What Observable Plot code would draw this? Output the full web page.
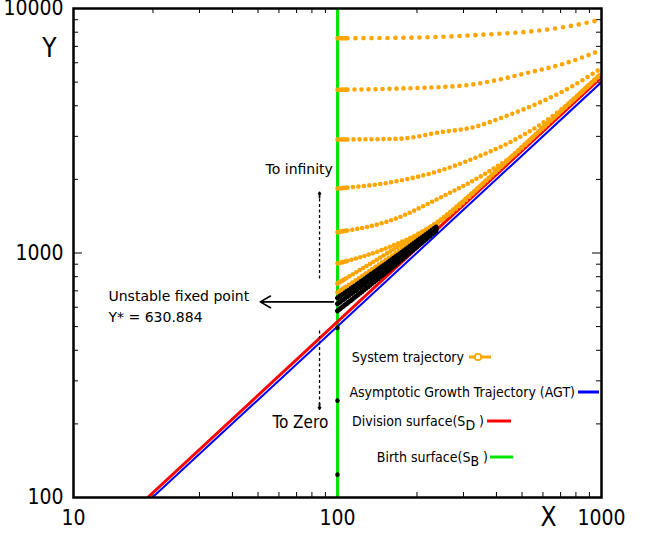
<!DOCTYPE html>
<html>
<head>
<meta charset="utf-8">
<script src="https://cdn.jsdelivr.net/npm/d3@7"></script>
<script src="https://cdn.jsdelivr.net/npm/@observablehq/plot@0.6"></script>
<style>
  html, body { margin: 0; padding: 0; background: #fff; }
  #chart svg { display: block; overflow: visible; }
</style>
</head>
<body>
<div id="chart"></div>
<script>
// ---------- tick values ----------
const xTickLabels = [10, 100, 1000];
const yTickLabels = [100, 1000, 10000];
const xMinorTicks = [20, 30, 40, 50, 60, 70, 80, 90, 200, 300, 400, 500, 600, 700, 800, 900];
const yMinorTicks = [200, 300, 400, 500, 600, 700, 800, 900, 2000, 3000, 4000, 5000, 6000, 7000, 8000, 9000];
const xMajorTicks = [100];
const yMajorTicks = [1000];

// ---------- surfaces ----------
const birthSurfaceX = [100];
const agtLine = [[19.9, 100], [1000, 5000]];
const divisionLine = [[19.1, 100], [1000, 5240]];

// ---------- system trajectories (X, Y) ----------
const traj1 = [[100, 7560], [145.5, 7574], [225, 7631], [403.6, 7880], [538.3, 8052], [717.9, 8385], [991.3, 8989]];
const traj2 = [[100, 4650], [173.3, 4707], [300.1, 4842], [538.3, 5488], [717.9, 5940], [991.3, 6732]];
const traj3 = [[100, 2912], [168.8, 2930], [245.6, 3119], [327.4, 3269], [440.5, 3650], [587.5, 4138], [783.5, 4842], [991.3, 5667]];
const traj4 = [[100, 1836], [165.8, 1961], [245.6, 2175], [327.4, 2435], [440.5, 2805], [587.5, 3354], [783.5, 4247], [991.3, 5371]];
const traj5 = [[100, 1217], [158.8, 1358], [245.6, 1687], [327.4, 1979], [379.8, 2175], [460.1, 2494], [587.5, 3184], [783.5, 4247], [991.3, 5371]];
const traj6 = [[100, 906], [145.5, 1024], [206.3, 1213], [267.9, 1452], [379.8, 2058], [587.5, 3184], [783.5, 4247], [991.3, 5371]];
const traj7 = [[100, 750], [155, 1000], [239.2, 1340], [327.4, 1775], [460.1, 2494], [587.5, 3184], [783.5, 4247], [991.3, 5371]];
const traj8 = [[100, 689], [155, 950], [239.2, 1320], [327.4, 1775], [460.1, 2494], [587.5, 3184], [783.5, 4247], [991.3, 5371]];
const orangeTrajectories = [traj1, traj2, traj3, traj4, traj5, traj6, traj7, traj8];
const orangeDotGaps = [8, 7, 6, 5.5, 5, 4.5, 4, 4];

// ---------- near fixed point (black) ----------
const black1 = [[100, 655], [155, 915], [239, 1290]];
const black2 = [[100, 620], [155, 880], [239, 1265]];
const black3 = [[100, 580], [155, 845], [239, 1245]];
const blackTrajectories = [black1, black2, black3];
const blackPoints = [[100, 494], [100, 249], [100, 124]];

// ---------- annotations ----------
const fixedPointArrow = [[96.5, 630.9, 51, 630.9]];
const upShaft = [[85.5, 787, 85.5, 1700]];
const upHead = [[85.5, 1690, 85.5, 1770]];
const downShaft = [[85.5, 482, 85.5, 238]];
const downHead = [[85.5, 242, 85.5, 230]];
const notes = [
  {x: 53.4, y: 2237, text: "To infinity"},
  {x: 13.57, y: 612, text: "Unstable fixed point\nY* = 630.884"}
];
const zeroNote = [{x: 56.7, y: 202.6, text: "To Zero"}];

const PH = 535 - 8 - 38;
const PW = 651 - 73 - 50;
const dots = (head, gap) => [head, gap, ...Array(160).fill(`0 ${gap}`)].join(" ");
const XY = {x: d => d[0], y: d => d[1]};
const narrow = "'Liberation Sans Narrow', 'DejaVu Sans Condensed', sans-serif";
const body = "'DejaVu Sans', sans-serif";

const plot = Plot.plot({
  width: 651,
  height: 535,
  marginLeft: 73,
  marginRight: 50,
  marginTop: 8,
  marginBottom: 38,
  x: {type: "log", domain: [10, 1000]},
  y: {type: "log", domain: [100, 10000]},
  style: {fontFamily: narrow, background: "#fff", color: "#000"},
  marks: [
    Plot.axisX({ticks: xTickLabels, tickSize: 0, tickPadding: 13, fontSize: 21, tickFormat: d3.format("d"), label: null}),
    Plot.axisY({ticks: yTickLabels, tickSize: 0, tickPadding: 10, fontSize: 21, tickFormat: d3.format("d"), label: null}),
    // inward ticks
    Plot.tickX(xMinorTicks, {x: d => d, insetTop: PH - 5, strokeWidth: 1}),
    Plot.tickX(xMinorTicks, {x: d => d, insetBottom: PH - 5, strokeWidth: 1}),
    Plot.tickX(xMajorTicks, {x: d => d, insetTop: PH - 9, strokeWidth: 1}),
    Plot.tickX(xMajorTicks, {x: d => d, insetBottom: PH - 9, strokeWidth: 1}),
    Plot.tickY(yMinorTicks, {y: d => d, insetRight: PW - 5, strokeWidth: 1}),
    Plot.tickY(yMinorTicks, {y: d => d, insetLeft: PW - 5, strokeWidth: 1}),
    Plot.tickY(yMajorTicks, {y: d => d, insetRight: PW - 9, strokeWidth: 1}),
    Plot.tickY(yMajorTicks, {y: d => d, insetLeft: PW - 9, strokeWidth: 1}),
    // surfaces
    Plot.ruleX(birthSurfaceX, {x: d => d, stroke: "#00e600", strokeWidth: 3}),
    Plot.line(agtLine, {...XY, stroke: "#0000ff", strokeWidth: 2, clip: true}),
    Plot.line(divisionLine, {...XY, stroke: "#ff0000", strokeWidth: 3, clip: true}),
    // trajectories
    ...orangeTrajectories.map((t, i) => Plot.line(t, {
      ...XY, curve: "monotone-x", stroke: "#ffa500", strokeWidth: 4.6,
      strokeLinecap: "round", strokeDasharray: dots(10, orangeDotGaps[i]), clip: true
    })),
    ...blackTrajectories.map(t => Plot.line(t, {
      ...XY, curve: "monotone-x", stroke: "#000", strokeWidth: 5,
      strokeLinecap: "round", strokeDasharray: dots(4, 2.5), clip: true
    })),
    Plot.dot(blackPoints, {...XY, r: 2.3, fill: "#000"}),
    // annotations
    Plot.arrow(fixedPointArrow, {x1: d => d[0], y1: d => d[1], x2: d => d[2], y2: d => d[3], stroke: "#000", strokeWidth: 1.6, headLength: 11}),
    Plot.link(upShaft, {x1: d => d[0], y1: d => d[1], x2: d => d[2], y2: d => d[3], stroke: "#000", strokeWidth: 1.3, strokeDasharray: "3 2.5"}),
    Plot.arrow(upHead, {x1: d => d[0], y1: d => d[1], x2: d => d[2], y2: d => d[3], stroke: "#000", strokeWidth: 1.8, headLength: 10}),
    Plot.link(downShaft, {x1: d => d[0], y1: d => d[1], x2: d => d[2], y2: d => d[3], stroke: "#000", strokeWidth: 1.3, strokeDasharray: "3 2.5"}),
    Plot.arrow(downHead, {x1: d => d[0], y1: d => d[1], x2: d => d[2], y2: d => d[3], stroke: "#000", strokeWidth: 1.8, headLength: 10}),
    Plot.text(notes, {x: "x", y: "y", text: "text", textAnchor: "start", fontSize: 14, lineHeight: 1.45, fontFamily: body, fill: "#000"}),
    Plot.text(zeroNote, {x: "x", y: "y", text: "text", textAnchor: "start", fontSize: 17, fontFamily: "'DejaVu Sans Condensed', 'DejaVu Sans', sans-serif", fill: "#000"}),
    // axis titles
    Plot.text(["Y"], {frameAnchor: "top-left", text: d => d, textAnchor: "middle", lineAnchor: "middle", dx: -24, dy: 40, fontSize: 26, fill: "#000"}),
    Plot.text(["X"], {frameAnchor: "bottom-right", text: d => d, textAnchor: "middle", lineAnchor: "middle", dx: -53, dy: 20, fontSize: 26, fill: "#000"}),
    Plot.frame({stroke: "#000", strokeWidth: 2.5})
  ]
});

// ---------- legend ----------
const svg = d3.select(plot);
const leg = svg.append("g")
  .attr("font-family", "'DejaVu Sans Condensed', 'DejaVu Sans', sans-serif")
  .attr("font-stretch", "condensed")
  .attr("font-size", 14)
  .attr("fill", "#000");

function entry(y, endX, parts, color, x1, x2, marker) {
  const t = leg.append("text").attr("x", endX).attr("y", y).attr("dy", "0.35em").attr("text-anchor", "end");
  parts.forEach(p => {
    const s = t.append("tspan").text(p.text);
    if (p.dy) s.attr("dy", p.dy);
  });
  leg.append("line").attr("x1", x1).attr("x2", x2).attr("y1", y).attr("y2", y)
    .attr("stroke", color).attr("stroke-width", 3);
  if (marker) {
    leg.append("circle").attr("cx", (x1 + x2) / 2 - 2).attr("cy", y).attr("r", 3.2)
      .attr("fill", "#fff").attr("stroke", color).attr("stroke-width", 1.8);
  }
}
entry(357, 464, [{text: "System trajectory"}], "#ffa500", 469, 491, true);
entry(392, 575, [{text: "Asymptotic Growth Trajectory (AGT)"}], "#0000ff", 578, 599, false);
entry(421, 484, [{text: "Division surface(S"}, {text: "D", dy: 4}, {text: " )", dy: -4}], "#ff0000", 487, 511, false);
entry(457, 488, [{text: "Birth surface(S"}, {text: "B", dy: 4}, {text: " )", dy: -4}], "#00e600", 490, 513, false);

document.getElementById("chart").appendChild(plot);
</script>
</body>
</html>
